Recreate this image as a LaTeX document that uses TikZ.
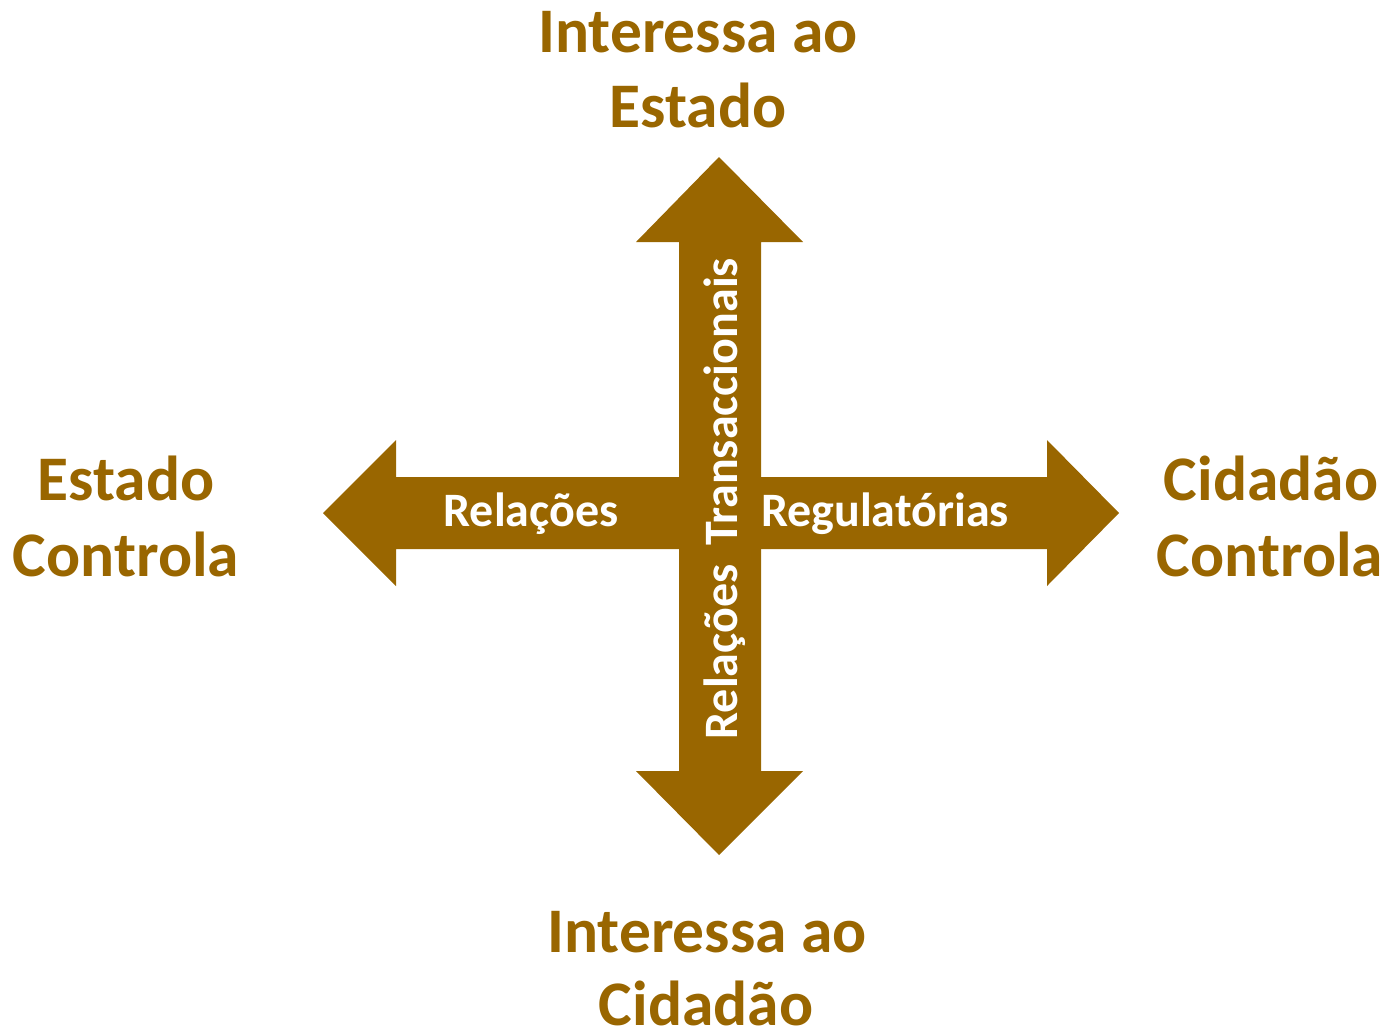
\documentclass[tikz,border=0pt]{standalone}
\usepackage{fontspec}
\setmainfont{Carlito}
\definecolor{brn}{HTML}{996600}
\begin{document}
\begin{tikzpicture}[x=1pt,y=-1pt,
  big/.style={text=brn,font=\fontsize{63.5}{75}\selectfont\bfseries,inner sep=0pt,anchor=base},
  small/.style={text=white,font=\fontsize{48}{56}\selectfont\bfseries,inner sep=0pt,anchor=base}]
\useasboundingbox (0,0) rectangle (1387,1029);
% horizontal double arrow
\fill[brn] (323,513) -- (396,440) -- (396,477) -- (1047,477) -- (1047,440) -- (1119,513)
  -- (1047,586) -- (1047,549) -- (396,549) -- (396,586) -- cycle;
% vertical double arrow
\fill[brn] (719,157) -- (803,242) -- (761,242) -- (761,771) -- (803,771) -- (719,855)
  -- (636,771) -- (679,771) -- (679,242) -- (636,242) -- cycle;
% outer labels
\node[big] (t1) at (698,52) {Interessa ao};
\node[big] (t2) at (698,127) {Estado};
\node[big] (l1) at (126,500) {Estado};
\node[big] (l2) at (126,576) {Controla};
\node[big] (r1) at (1271,500) {Cidadão};
\node[big] (r2) at (1270,576) {Controla};
\node[big] (b1) at (707,952) {Interessa ao};
\node[big] (b2) at (706,1025) {Cidadão};
% inner labels
\node[small] (h1) at (531,526) {Relações};
\node[small] (h2) at (885,526) {Regulatórias};
\node[small,rotate=90] (v1) at (737,652) {Relações};
\node[small,rotate=90] (v2) at (737,402) {Transaccionais};
\end{tikzpicture}
\end{document}
